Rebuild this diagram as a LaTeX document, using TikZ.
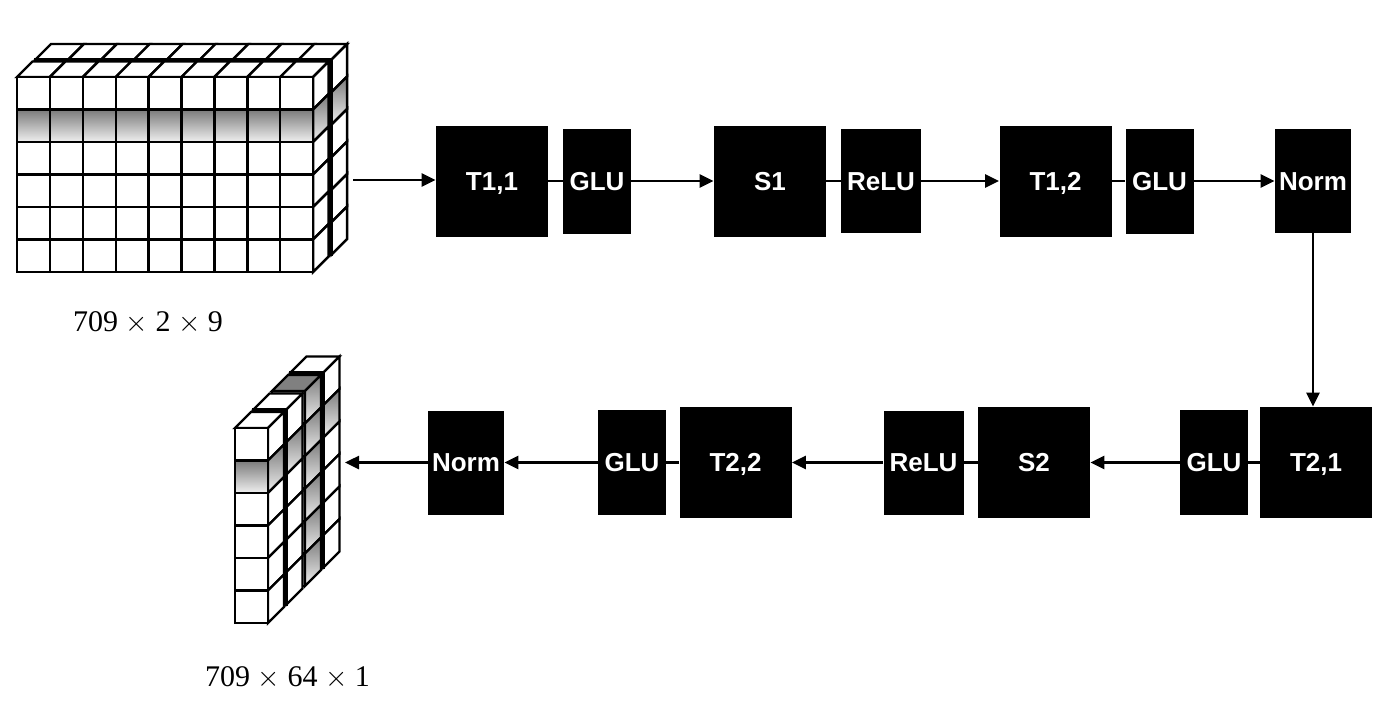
\documentclass[tikz,border=0pt]{standalone}
\usepackage{fontspec}
\setmainfont{Liberation Serif}
\setsansfont{Liberation Sans}
\usetikzlibrary{arrows.meta}
\tikzset{
  blk/.style={fill=black, text=white, inner sep=0pt, text height=9.4pt, text depth=0pt, font=\sffamily\bfseries\fontsize{13}{15}\selectfont},
  big/.style={blk, minimum width=56pt, minimum height=55.5pt},
  glu/.style={blk, minimum width=34pt, minimum height=52.5pt},
  relu/.style={blk, minimum width=40pt, minimum height=52pt},
  norm/.style={blk, minimum width=38pt, minimum height=52pt},
  conn/.style={line width=1.3pt},
  arr/.style={line width=1.3pt, -{Triangle[length=7pt,width=6.5pt]}},
  cubeline/.style={line width=1.2pt, line join=miter},
  shd/.style={top color=black!52, bottom color=black!6},
  lbl/.style={font=\fontsize{15}{18}\selectfont},
}
% input tensor layer: #1,#2 = top-left of front face (px)
\newcommand\drawinlayer[2]{%
  \foreach \j in {0,...,8}{
    \filldraw[cubeline, fill=white] ({#1+\j*32.9},#2) -- ++(15.5,-15.5) -- ++(32.9,0) -- ++(-15.5,15.5) -- cycle;
  }
  \foreach \i in {0,...,5}{
    \ifnum\i=1 \tikzset{cur/.style={shd}}\else\tikzset{cur/.style={fill=white}}\fi
    \draw[cubeline,cur] ({#1+9*32.9},{#2+\i*32.5}) -- ++(15.5,-15.5) -- ++(0,32.5) -- ++(-15.5,15.5) -- cycle;
    \foreach \j in {0,...,8}{
      \draw[cubeline,cur] ({#1+\j*32.9},{#2+\i*32.5}) rectangle ++(32.9,32.5);
    }
  }
}
% output tensor column: #1,#2 = top-left of front face, #3 = top style, #4 = 1 if all shaded
\newcommand\drawoutcol[4]{%
  \draw[cubeline,#3] (#1,#2) -- ++(16,-16) -- ++(33,0) -- ++(-16,16) -- cycle;
  \foreach \i in {0,...,5}{
    \pgfmathtruncatemacro\s{or(\i==1,#4==1)}
    \ifnum\s=1 \tikzset{cur/.style={shd}}\else\tikzset{cur/.style={fill=white}}\fi
    \draw[cubeline,cur] ({#1+33},{#2+\i*32.5}) -- ++(16,-16) -- ++(0,32.5) -- ++(-16,16) -- cycle;
    \draw[cubeline,cur] (#1,{#2+\i*32.5}) rectangle ++(33,32.5);
  }
}
\begin{document}
\begin{tikzpicture}[x=0.5pt,y=-0.5pt]
\useasboundingbox (0,0) rectangle (1400,719);
% input tensor
\drawinlayer{35.5}{59.5}
\drawinlayer{17}{77}
% output tensor
\drawoutcol{290.5}{372.5}{fill=white}{0}
\drawoutcol{272}{391}{fill=black!50}{1}
\drawoutcol{253.5}{409.5}{fill=white}{0}
\drawoutcol{235}{428}{fill=white}{0}

\coordinate (inarr) at (353,180);
\coordinate (outarr) at (345,462.5);

\node[big]  (t11) at (492,181) {T1,1};
\node[glu]  (g1)  at (597,181) {GLU};
\node[big]  (s1)  at (770,181) {S1};
\node[relu] (r1)  at (881,181) {ReLU};
\node[big]  (t12) at (1055.5,181) {T1,2};
\node[glu]  (g2)  at (1159.5,181) {GLU};
\node[norm] (n1)  at (1313,181) {Norm};

\node[big]  (t21) at (1316,462.5) {T2,1};
\node[glu]  (g3)  at (1214,462.5) {GLU};
\node[big]  (s2)  at (1034,462.5) {S2};
\node[relu] (r2)  at (923.5,462.5) {ReLU};
\node[big]  (t22) at (735.5,462.5) {T2,2};
\node[glu]  (g4)  at (632,462.5) {GLU};
\node[norm] (n2)  at (466,462.5) {Norm};

\draw[arr]  (inarr) -- (inarr -| t11.west);
\draw[conn] (t11) -- (g1);
\draw[arr]  (g1) -- (s1);
\draw[conn] (s1) -- (r1);
\draw[arr]  (r1) -- (t12);
\draw[conn] (t12) -- (g2);
\draw[arr]  (g2) -- (n1);
\draw[arr]  (n1.south) -- (n1.south |- t21.north);
\draw[conn] (t21) -- (g3);
\draw[arr]  (g3) -- (s2);
\draw[conn] (s2) -- (r2);
\draw[arr]  (r2) -- (t22);
\draw[conn] (t22) -- (g4);
\draw[arr]  (g4) -- (n2);
\draw[arr]  (n2) -- (outarr);

\node[lbl] (lab1) at (148,323) {709 $\times$ 2 $\times$ 9};
\node[lbl] (lab2) at (287.5,678) {709 $\times$ 64 $\times$ 1};
\end{tikzpicture}
\end{document}
